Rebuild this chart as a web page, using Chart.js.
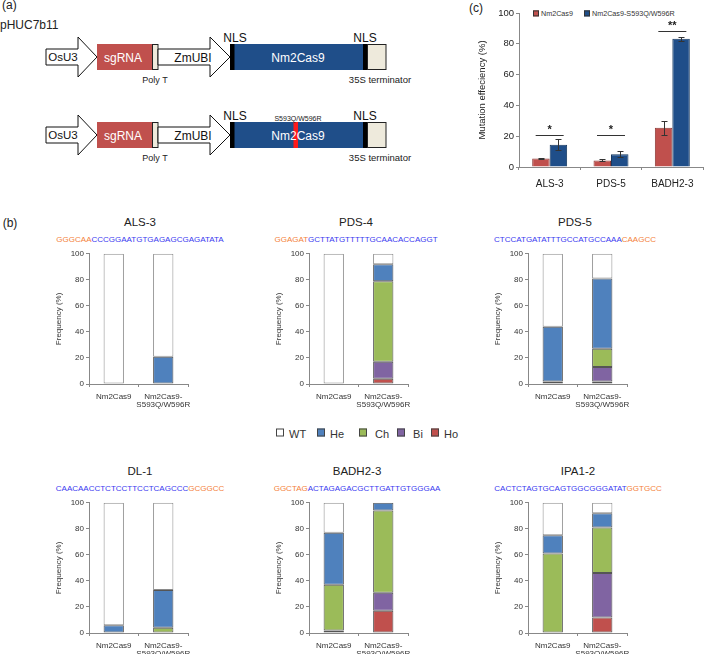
<!DOCTYPE html>
<html><head><meta charset="utf-8">
<script src="https://cdn.jsdelivr.net/npm/chart.js@4.4.0/dist/chart.umd.min.js"></script>
<style>
html,body{margin:0;padding:0;background:#fff;}
body{width:709px;height:654px;position:relative;overflow:hidden;font-family:"Liberation Sans",Arial,sans-serif;color:#222;}
canvas{position:absolute;}
.t{position:absolute;transform:translate(-50%,-50%);white-space:nowrap;line-height:1;}
.seq{font-size:8px;letter-spacing:0px;}
.o{color:#f47f3a;} .b{color:#3a3af0;}
.lg{position:absolute;top:434px;transform:translateY(-50%);font-size:11px;line-height:1;white-space:nowrap;color:#333;}
.lg i{display:inline-block;width:6px;height:6px;border:1px solid #444;margin-right:5px;vertical-align:1px;}
.lc{position:absolute;top:14px;transform:translateY(-50%);font-size:7.2px;line-height:1;white-space:nowrap;color:#333;}
.lc i{display:inline-block;width:4px;height:4px;border:1px solid #333;margin-right:2px;vertical-align:0px;}
</style></head><body>

<!-- (a) construct diagram -->
<svg width="709" height="170" style="position:absolute;left:0;top:0" font-family="Liberation Sans, Arial, sans-serif">
  <text x="2" y="9" font-size="12" fill="#222">(a)</text>
  <text x="0" y="29" font-size="12" fill="#222">pHUC7b11</text>
  <g>
    <polygon points="46,49 78,49 78,37 97,57 78,77 78,65 46,65" fill="#fff" stroke="#111" stroke-width="1"/>
    <text x="63" y="61" font-size="11.5" text-anchor="middle" fill="#111">OsU3</text>
    <rect x="97" y="44" width="55" height="26" fill="#c0504d"/>
    <text x="123" y="61.5" font-size="12" text-anchor="middle" fill="#fff">sgRNA</text>
    <rect x="152.5" y="44.5" width="5.5" height="25" fill="#eeeadc" stroke="#222" stroke-width="1"/>
    <polygon points="158,49 210,49 210,37 230,57 210,77 210,65 158,65" fill="#fff" stroke="#111" stroke-width="1"/>
    <text x="193" y="61.5" font-size="12" text-anchor="middle" fill="#111">ZmUBI</text>
    <rect x="234" y="44" width="129" height="26" fill="#1f4e89"/>
    <rect x="230" y="44" width="4.5" height="26" fill="#000"/>
    <rect x="363" y="44" width="4.5" height="26" fill="#000"/>
    <text x="298" y="61.5" font-size="12" text-anchor="middle" fill="#fff">Nm2Cas9</text>
    <rect x="367.5" y="44.5" width="18.5" height="25" fill="#eeeadc" stroke="#222" stroke-width="1"/>
    <text x="235" y="42" font-size="12" text-anchor="middle" fill="#111">NLS</text>
    <text x="365" y="42" font-size="12" text-anchor="middle" fill="#111">NLS</text>
    <text x="155" y="83" font-size="9" text-anchor="middle" fill="#222">Poly T</text>
    <text x="380" y="83" font-size="9.5" text-anchor="middle" fill="#222">35S terminator</text>
  </g>
  <g transform="translate(0,78)">
    <polygon points="46,49 78,49 78,37 97,57 78,77 78,65 46,65" fill="#fff" stroke="#111" stroke-width="1"/>
    <text x="63" y="61" font-size="11.5" text-anchor="middle" fill="#111">OsU3</text>
    <rect x="97" y="44" width="55" height="26" fill="#c0504d"/>
    <text x="123" y="61.5" font-size="12" text-anchor="middle" fill="#fff">sgRNA</text>
    <rect x="152.5" y="44.5" width="5.5" height="25" fill="#eeeadc" stroke="#222" stroke-width="1"/>
    <polygon points="158,49 210,49 210,37 230,57 210,77 210,65 158,65" fill="#fff" stroke="#111" stroke-width="1"/>
    <text x="193" y="61.5" font-size="12" text-anchor="middle" fill="#111">ZmUBI</text>
    <rect x="234" y="44" width="129" height="26" fill="#1f4e89"/>
    <rect x="293.5" y="44" width="4.5" height="26" fill="#ff1a1a"/>
    <rect x="230" y="44" width="4.5" height="26" fill="#000"/>
    <rect x="363" y="44" width="4.5" height="26" fill="#000"/>
    <text x="298" y="61.5" font-size="12" text-anchor="middle" fill="#fff">Nm2Cas9</text>
    <rect x="367.5" y="44.5" width="18.5" height="25" fill="#eeeadc" stroke="#222" stroke-width="1"/>
    <text x="235" y="42" font-size="12" text-anchor="middle" fill="#111">NLS</text>
    <text x="365" y="42" font-size="12" text-anchor="middle" fill="#111">NLS</text>
    <text x="298" y="43" font-size="7" text-anchor="middle" fill="#222">S593Q/W596R</text>
    <text x="155" y="83" font-size="9" text-anchor="middle" fill="#222">Poly T</text>
    <text x="380" y="83" font-size="9.5" text-anchor="middle" fill="#222">35S terminator</text>
  </g>
</svg>

<div class="t" style="left:10px;top:223px;font-size:12px;">(b)</div>
<div class="t" style="left:476px;top:8px;font-size:12px;">(c)</div>

<div class="lg" style="left:276px;"><i style="background:#fff"></i>WT</div>
<div class="lg" style="left:317px;"><i style="background:#4f81bd"></i>He</div>
<div class="lg" style="left:359px;"><i style="background:#9bbb59"></i>&nbsp;Ch</div>
<div class="lg" style="left:397px;"><i style="background:#8064a2"></i>&nbsp;Bi</div>
<div class="lg" style="left:431px;"><i style="background:#c0504d"></i>Ho</div>

<div id="legC"></div>

<script>
// ---------- DATA ----------
// (b) genotype frequency per target, [Nm2Cas9, Nm2Cas9-S593Q/W596R]
const targets   = ["ALS-3", "PDS-4", "PDS-5", "DL-1", "BADH2-3", "IPA1-2"];
const seqOrange = ["GGGCAA", "GGAGAT", "CAAGCC", "GCGGCC", "GGCTAG", "GGTGCC"];
const seqBlue   = ["CCCGGAATGTGAGAGCGAGATATA", "GCTTATGTTTTTGCAACACCAGGT", "CTCCATGATATTTGCCATGCCAAA",
                   "CAACAACCTCTCCTTCCTCAGCCC", "ACTAGAGACGCTTGATTGTGGGAA", "CACTCTAGTGCAGTGGCGGGATAT"];
const orangeFirst = [true, true, false, false, true, false];
const groups    = ["Nm2Cas9", ["Nm2Cas9-", "S593Q/W596R"]];
const genotypes = ["Ho", "Bi", "Ch", "He", "WT"];
const hoVals = [[0, 0], [0, 4],  [0, 2],  [0, 0],  [0, 17],  [0, 12]];
const biVals = [[0, 0], [0, 13], [0, 11], [0, 0],  [2, 14],  [0, 34]];
const chVals = [[0, 0], [0, 62], [2, 14], [0, 4],  [35, 63], [61, 35]];
const heVals = [[0, 21],[0, 13], [42, 54],[6, 29], [40, 6],  [14, 11]];
const wtVals = [[100,79],[100,8],[56, 19],[94, 67],[23, 0],  [25, 8]];
const freqTicks = [0, 20, 40, 60, 80, 100];

// (c) mutation efficiency
const effCats   = ["ALS-3", "PDS-5", "BADH2-3"];
const effSeries = ["Nm2Cas9", "Nm2Cas9-S593Q/W596R"];
const effWT     = [5.5, 4.3, 25.5];
const effMut    = [14.5, 8.3, 83.3];
const errWT     = [0.5, 0.6, 4.6];
const errMut    = [3.6, 2.1, 1.2];
const sigMarks  = ["*", "*", "**"];
const sigLevel  = [21, 21, 88.5];

// ---------- STYLE ----------
Chart.defaults.font.family = '"Liberation Sans", Arial, sans-serif';
Chart.defaults.color = '#333';
Chart.defaults.animation = false;

const genoColors = {Ho: "#c0504d", Bi: "#8064a2", Ch: "#9bbb59", He: "#4f81bd", WT: "#ffffff"};
const genoData = {Ho: hoVals, Bi: biVals, Ch: chVals, He: heVals, WT: wtVals};
const effColors = ["#c0504d", "#1f4e89"];
const effBorders = ["#8d3a37", "#15375f"];

// panel positions: [plot left, plot top (y=100)]
const panelPos = [[89, 253], [309, 253], [528, 253], [89, 502], [309, 502], [528, 502]];
const titleX = [140, 356, 575, 140, 357, 578];

function addText(html, x, y, size, cls) {
  const d = document.createElement('div');
  d.className = 't ' + (cls || '');
  d.style.left = x + 'px'; d.style.top = y + 'px'; d.style.fontSize = size + 'px';
  d.innerHTML = html;
  document.body.appendChild(d);
}

targets.forEach((name, k) => {
  const [ax, ay] = panelPos[k];
  addText(name, titleX[k], ay - 30, 11.5);
  const seqHtml = orangeFirst[k]
    ? '<span class="o">' + seqOrange[k] + '</span><span class="b">' + seqBlue[k] + '</span>'
    : '<span class="b">' + seqBlue[k] + '</span><span class="o">' + seqOrange[k] + '</span>';
  addText(seqHtml, titleX[k], ay - 13, 8, 'seq');

  const YW = 45, PADR = 22, TOP = 6, XH = 32, PW = 99, PH = 131;
  const cv = document.createElement('canvas');
  cv.width = YW + PW + PADR; cv.height = TOP + PH + XH;
  cv.style.left = (ax - YW) + 'px'; cv.style.top = (ay - TOP) + 'px';
  document.body.appendChild(cv);

  const datasets = genotypes.map(g => ({
    label: g,
    data: genoData[g][k].map(v => v === 0 ? null : v),
    backgroundColor: genoColors[g],
    borderColor: g === 'WT' ? '#8a8a8a' : '#555',
    borderWidth: 1,
    borderSkipped: false,
    barPercentage: 1.0,
    categoryPercentage: 0.41
  }));

  new Chart(cv, {
    type: 'bar',
    data: {labels: groups, datasets},
    options: {
      responsive: false, devicePixelRatio: 1,
      layout: {padding: {top: TOP, right: PADR, left: 0, bottom: 0}},
      plugins: {legend: {display: false}, tooltip: {enabled: false}},
      scales: {
        x: {
          stacked: true,
          grid: {display: true, drawOnChartArea: false, drawTicks: true, tickLength: 3, color: '#888', offset: true},
          border: {display: true, color: '#888', width: 1},
          ticks: {font: {size: 8, lineHeight: 1.1}, padding: 5, color: '#333', maxRotation: 0, autoSkip: false},
          afterFit: s => { s.height = XH; }
        },
        y: {
          stacked: true, min: 0, max: 100,
          afterBuildTicks: s => { s.ticks = freqTicks.map(v => ({value: v})); },
          grid: {display: true, drawOnChartArea: false, drawTicks: true, tickLength: 3, color: '#888'},
          border: {display: true, color: '#888', width: 1},
          ticks: {font: {size: 8}, padding: 2, color: '#333'},
          title: {display: true, text: 'Frequency (%)', font: {size: 8}, color: '#333', padding: {top: 10, bottom: 0}},
          afterFit: s => { s.width = YW; }
        }
      }
    }
  });
});

// ---------- (c) grouped bar chart ----------
const legLeft = [533, 584];
effSeries.forEach((s, i) => {
  const d = document.createElement('div');
  d.className = 'lc';
  d.style.left = legLeft[i] + 'px';
  d.innerHTML = '<i style="background:' + effColors[i] + '"></i>' + s;
  document.body.appendChild(d);
});

const errorPlugin = {
  id: 'errorBars',
  afterDatasetsDraw(chart) {
    const ctx = chart.ctx, ys = chart.scales.y, xs = chart.scales.x;
    const errs = [errWT, errMut];
    ctx.save();
    ctx.strokeStyle = '#333'; ctx.lineWidth = 1;
    errs.forEach((e, di) => {
      const meta = chart.getDatasetMeta(di);
      meta.data.forEach((bar, i) => {
        const v = chart.data.datasets[di].data[i];
        const x = Math.round(bar.x) + 0.5;
        const t = Math.round(ys.getPixelForValue(v + e[i])) + 0.5;
        const b = Math.round(ys.getPixelForValue(v - e[i])) + 0.5;
        ctx.beginPath();
        ctx.moveTo(x, t); ctx.lineTo(x, b);
        ctx.moveTo(x - 3, t); ctx.lineTo(x + 3, t);
        ctx.moveTo(x - 3, b); ctx.lineTo(x + 3, b);
        ctx.stroke();
      });
    });
    ctx.fillStyle = '#222';
    ctx.font = 'bold 11px "Liberation Sans", Arial, sans-serif';
    ctx.textAlign = 'center'; ctx.textBaseline = 'middle';
    sigMarks.forEach((m, i) => {
      const cx = xs.getPixelForValue(i);
      const ly = Math.round(ys.getPixelForValue(sigLevel[i])) + 0.5;
      ctx.beginPath(); ctx.moveTo(cx - 14, ly); ctx.lineTo(cx + 14, ly); ctx.stroke();
      ctx.fillText(m, cx, ly - 6);
    });
    ctx.restore();
  }
};

(function () {
  const cv = document.createElement('canvas');
  cv.width = 239; cv.height = 202;
  cv.style.left = '470px'; cv.style.top = '0px';
  document.body.appendChild(cv);
  new Chart(cv, {
    type: 'bar',
    data: {
      labels: effCats,
      datasets: effSeries.map((s, i) => ({
        label: s, data: i === 0 ? effWT : effMut,
        backgroundColor: effColors[i], borderColor: effBorders[i], borderWidth: 1,
        barPercentage: 1.0, categoryPercentage: 0.57
      }))
    },
    options: {
      responsive: false, devicePixelRatio: 1,
      layout: {padding: {top: 13, right: 6, left: 0, bottom: 0}},
      plugins: {tooltip: {enabled: false}, legend: {display: false}},
      scales: {
        x: {
          grid: {display: true, drawOnChartArea: false, drawTicks: true, tickLength: 3, color: '#888', offset: true},
          border: {display: true, color: '#888'},
          ticks: {font: {size: 10}, padding: 8, color: '#222'},
          afterFit: s => { s.height = 35; }
        },
        y: {
          min: 0, max: 100,
          afterBuildTicks: s => { s.ticks = freqTicks.map(v => ({value: v})); },
          grid: {display: true, drawOnChartArea: false, drawTicks: true, tickLength: 3, color: '#888'},
          border: {display: true, color: '#888'},
          ticks: {font: {size: 9.5}, padding: 2, color: '#222'},
          title: {display: true, text: 'Mutation effeciency (%)', font: {size: 9.5}, color: '#222', padding: {top: 7, bottom: 0}},
          afterFit: s => { s.width = 49; }
        }
      }
    },
    plugins: [errorPlugin]
  });
})();
</script>
</body></html>
